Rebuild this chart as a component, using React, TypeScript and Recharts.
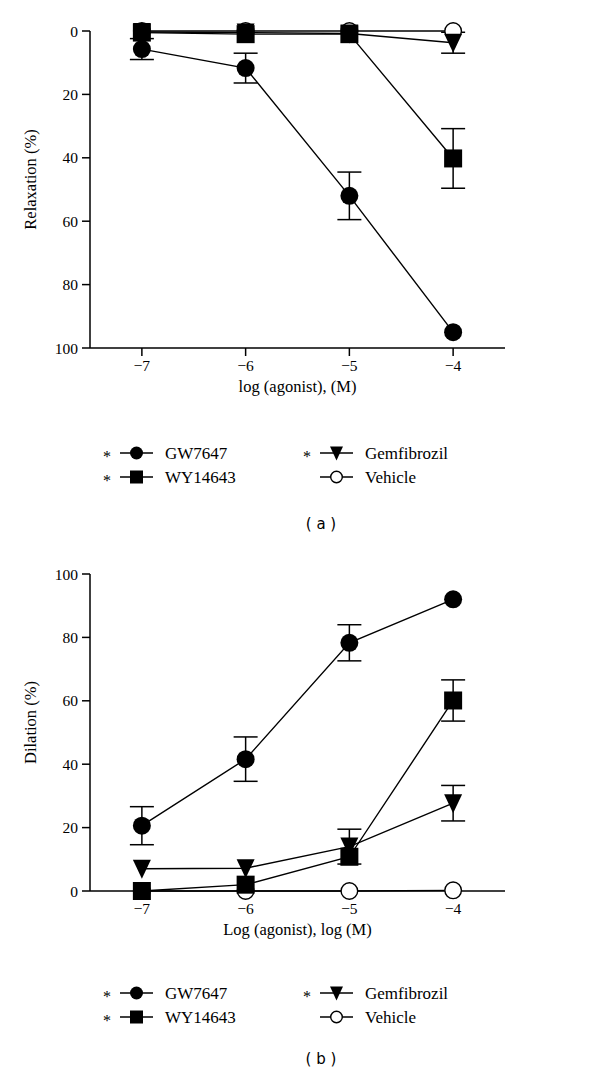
import React from "react";
import { LineChart, Line, XAxis, YAxis, ErrorBar } from "recharts";

const LOG_DOSE = [-7, -6, -5, -4];
const X_TICKS = [-7, -6, -5, -4];
const Y_TICKS = [0, 20, 40, 60, 80, 100];

// (a) relaxation (%), mean and SEM (0 = bar hidden behind the marker)
const RELAX_GW7647 = [5.7, 11.7, 52, 95];
const RELAX_GW7647_SEM = [3.3, 4.7, 7.5, 0];
const RELAX_WY14643 = [0.5, 1, 1, 40.2];
const RELAX_WY14643_SEM = [0, 0, 0, 9.4];
const RELAX_GEMFIBROZIL = [0.3, 0.5, 0.8, 3.7];
const RELAX_GEMFIBROZIL_SEM = [0, 0, 0, 3.3];
const RELAX_VEHICLE = [0, 0, 0, 0];

// (b) dilation (%)
const DIL_GW7647 = [20.6, 41.6, 78.3, 92];
const DIL_GW7647_SEM = [6, 7, 5.7, 0];
const DIL_WY14643 = [0, 2, 10.8, 60.1];
const DIL_WY14643_SEM = [0, 0, 0, 6.5];
const DIL_GEMFIBROZIL = [7, 7.2, 14, 27.7];
const DIL_GEMFIBROZIL_SEM = [0, 0, 5.5, 5.6];
const DIL_VEHICLE = [0, 0, 0, 0.2];

const LEGEND_NAMES = ["GW7647", "WY14643", "Gemfibrozil", "Vehicle"];
const LEGEND_STAR = [true, true, true, false];

const SERIF = "Liberation Serif, Times New Roman, DejaVu Serif, serif";
const R = 9;

function buildRows(gw: number[], gwSem: number[], wy: number[], wySem: number[], gem: number[], gemSem: number[], veh: number[]) {
  return LOG_DOSE.map((x, i) => ({
    x,
    gw: gw[i],
    gwSem: gwSem[i],
    wy: wy[i],
    wySem: wySem[i],
    gem: gem[i],
    gemSem: gemSem[i],
    veh: veh[i],
  }));
}

const relaxRows = buildRows(RELAX_GW7647, RELAX_GW7647_SEM, RELAX_WY14643, RELAX_WY14643_SEM, RELAX_GEMFIBROZIL, RELAX_GEMFIBROZIL_SEM, RELAX_VEHICLE);
const dilRows = buildRows(DIL_GW7647, DIL_GW7647_SEM, DIL_WY14643, DIL_WY14643_SEM, DIL_GEMFIBROZIL, DIL_GEMFIBROZIL_SEM, DIL_VEHICLE);

// marker shapes
function disc(cx: number, cy: number, r: number, key?: string) {
  return <circle key={key} cx={cx} cy={cy} r={r} fill="#000" />;
}
function ring(cx: number, cy: number, r: number, key?: string) {
  return <circle key={key} cx={cx} cy={cy} r={r - 0.7} fill="#fff" stroke="#000" strokeWidth={1.4} />;
}
function square(cx: number, cy: number, r: number, key?: string) {
  return <rect key={key} x={cx - r} y={cy - r} width={2 * r} height={2 * r} fill="#000" />;
}
function triDown(cx: number, cy: number, r: number, key?: string) {
  return <polygon key={key} points={`${cx - r},${cy - r} ${cx + r},${cy - r} ${cx},${cy + r + 1}`} fill="#000" />;
}

const dotOf = (shape: typeof disc, name: string) => (p: any) => shape(p.cx, p.cy, R, `${name}-${p.index}`);

function AxisTitle({ viewBox, text, vertical, dx = 0, dy = 0 }: any) {
  if (!viewBox) return null;
  const style = { fontFamily: SERIF, fontSize: 16.5 };
  if (vertical) {
    const x = 30 + dx;
    const y = viewBox.y + viewBox.height / 2 + dy;
    return (
      <text x={x} y={y} transform={`rotate(-90 ${x} ${y})`} textAnchor="middle" dominantBaseline="central" style={style} fill="#000">
        {text}
      </text>
    );
  }
  return (
    <text x={viewBox.x + viewBox.width / 2 + dx} y={viewBox.y + dy} textAnchor="middle" dominantBaseline="central" style={style} fill="#000">
      {text}
    </text>
  );
}

const fmtTick = (v: number) => (v < 0 ? `\u2212${Math.abs(v)}` : `${v}`);

const axisStyle = {
  axisLine: { stroke: "#000", strokeWidth: 1.5 },
  tickLine: { stroke: "#000", strokeWidth: 1.5 },
  tick: { fill: "#000", fontSize: 15.5, style: { fontFamily: SERIF } },
};

function Panel({ rows, top, yTitle, xTitle, reversed }: any) {
  return (
    <div style={{ position: "absolute", left: 0, top }}>
      <LineChart width={600} height={420} data={rows} margin={{ top: 31, right: 95, left: 0, bottom: 22 }}>
        <XAxis
          type="number"
          dataKey="x"
          domain={[-7.5, -3.5]}
          ticks={X_TICKS}
          tickFormatter={fmtTick}
          tickSize={8}
          tickMargin={4}
          height={50}
          {...axisStyle}
          label={<AxisTitle text={xTitle} dy={38} />}
        />
        <YAxis
          type="number"
          domain={[0, 100]}
          ticks={Y_TICKS}
          reversed={reversed}
          width={90}
          tickSize={8}
          tickMargin={4}
          {...axisStyle}
          label={<AxisTitle text={yTitle} vertical dy={-10} />}
        />
        <Line dataKey="veh" stroke="#000" strokeWidth={1.4} dot={dotOf(ring, "veh")} activeDot={false} isAnimationActive={false} />
        <Line dataKey="gem" stroke="#000" strokeWidth={1.4} dot={dotOf(triDown, "gem")} activeDot={false} isAnimationActive={false}>
          <ErrorBar dataKey="gemSem" width={12} stroke="#000" strokeWidth={1.5} direction="y" isAnimationActive={false} />
        </Line>
        <Line dataKey="gw" stroke="#000" strokeWidth={1.4} dot={dotOf(disc, "gw")} activeDot={false} isAnimationActive={false}>
          <ErrorBar dataKey="gwSem" width={12} stroke="#000" strokeWidth={1.5} direction="y" isAnimationActive={false} />
        </Line>
        <Line dataKey="wy" stroke="#000" strokeWidth={1.4} dot={dotOf(square, "wy")} activeDot={false} isAnimationActive={false}>
          <ErrorBar dataKey="wySem" width={12} stroke="#000" strokeWidth={1.5} direction="y" isAnimationActive={false} />
        </Line>
      </LineChart>
    </div>
  );
}

const LEGEND_SHAPES = [disc, square, triDown, ring];

function LegendBlock({ top }: { top: number }) {
  const style = { fontFamily: SERIF };
  return (
    <svg style={{ position: "absolute", left: 0, top }} width={600} height={50}>
      {LEGEND_NAMES.map((name, i) => {
        const col = i < 2 ? 0 : 1;
        const y = 12 + (i % 2) * 24;
        const x0 = col === 0 ? 120 : 320;
        return (
          <g key={name}>
            {LEGEND_STAR[i] && (
              <text x={x0 - 13} y={y + 3} textAnchor="middle" dominantBaseline="central" style={style} fontSize={16} fill="#000">
                *
              </text>
            )}
            <line x1={x0} y1={y} x2={x0 + 33} y2={y} stroke="#000" strokeWidth={1.4} />
            {LEGEND_SHAPES[i](x0 + 16.5, y, 6.5)}
            <text x={x0 + 45} y={y} dominantBaseline="central" style={style} fontSize={17} fill="#000">
              {name}
            </text>
          </g>
        );
      })}
    </svg>
  );
}

function Caption({ top, text }: { top: number; text: string }) {
  return (
    <div style={{ position: "absolute", left: 0, top, width: 642, textAlign: "center", fontFamily: "'DejaVu Sans', sans-serif", fontSize: 15, color: "#000", whiteSpace: "pre" }}>
      {text}
    </div>
  );
}

export default function App() {
  return (
    <div style={{ position: "absolute", left: 0, top: 0, width: 600, height: 1084, background: "#fff", overflow: "hidden" }}>
      <Panel rows={relaxRows} top={0} yTitle="Relaxation (%)" xTitle="log (agonist), (M)" reversed />
      <LegendBlock top={441} />
      <Caption top={515} text="( a )" />
      <Panel rows={dilRows} top={542.7} yTitle="Dilation (%)" xTitle="Log (agonist), log (M)" reversed={false} />
      <LegendBlock top={981} />
      <Caption top={1050} text="( b )" />
    </div>
  );
}
